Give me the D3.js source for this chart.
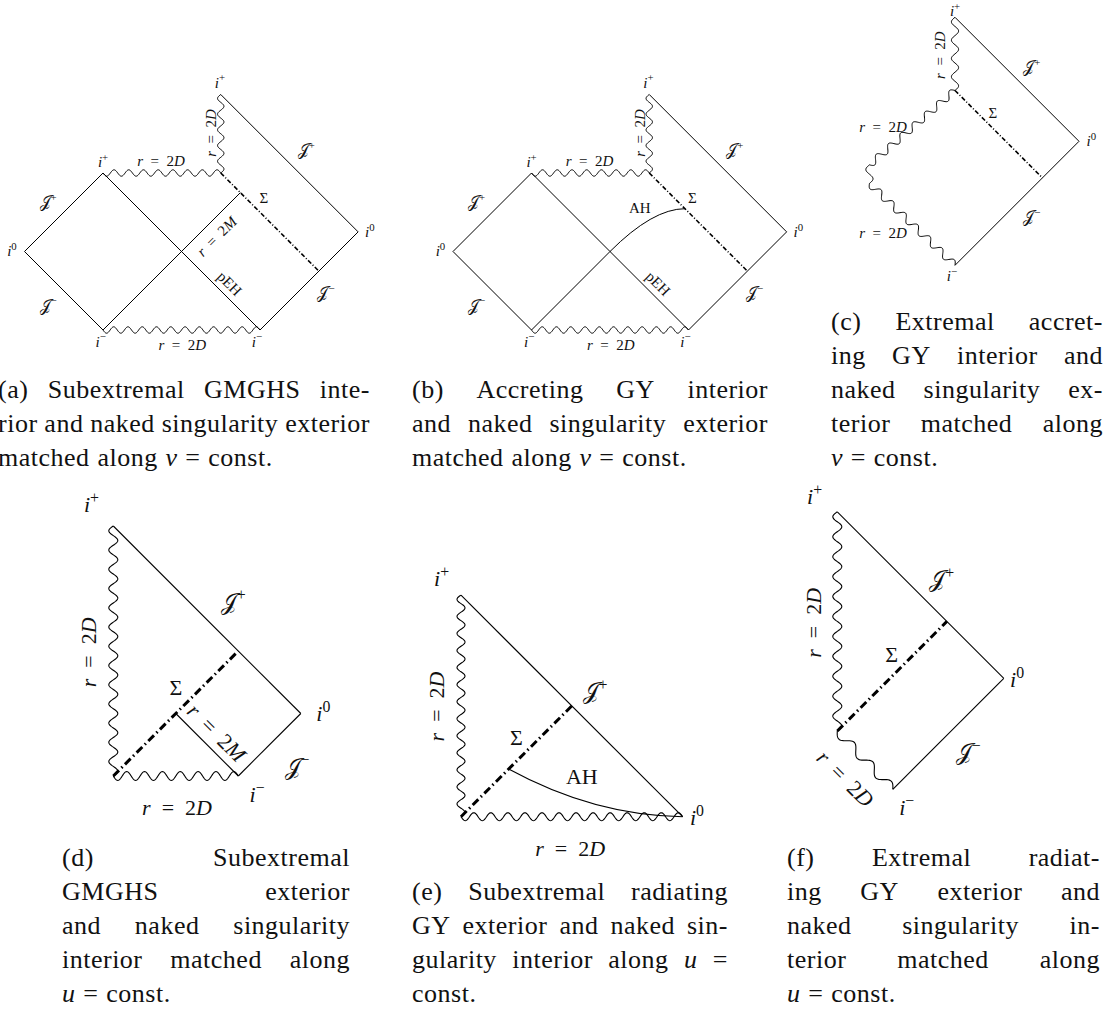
<!DOCTYPE html>
<html>
<head>
<meta charset="utf-8">
<script src="https://cdn.jsdelivr.net/npm/d3@7"></script>
<style>
  body { margin: 0; background: #fff; }
  svg { display: block; }
</style>
</head>
<body>
<script>
// Penrose diagrams: every vertex is given in diagram units (x to the right, t upward),
// so null rays run at 45 degrees. Each panel maps those units to pixels with its own scales.

// (a) and (b): GMGHS / GY interior glued to a naked-singularity exterior along v = const.
const abLines = [
  [[-2, 0], [-1, 1]], [[-2, 0], [-1, -1]],        // left J+ and J-
  [[-1, 1], [1, -1]],                              // pEH
  [[1, -1], [2.25, 0.25]], [[2.25, 0.25], [0.5, 2]] // right J- and J+
];
const aHorizon = [[[-1, -1], [0.75, 0.75]]];       // r = 2M up to Sigma
const bHorizon = [[[-1, -1], [0, 0]]];
const bApparent = [[0, 0], [0.545, 0.545], [0.955, 0.545]]; // AH: start, control, end
const abSnakes = [[[-1, 1], [0.5, 1]], [[0.5, 1], [0.5, 2]], [[-1, -1], [1, -1]]];
const abSigma = [[0.5, 1], [1.75, -0.25]];
const abLabels = [
  {s: "i^+", p: [-1.0, 1.14]}, {s: "r = 2D", p: [-0.26, 1.15]},
  {s: "J^+", p: [-1.70, 0.63]}, {s: "i^0", p: [-2.16, 0]},
  {s: "J^-", p: [-1.70, -0.69]}, {s: "i^-", p: [-1.03, -1.15]},
  {s: "r = 2D", p: [0.01, -1.19]}, {s: "i^-", p: [0.96, -1.15]},
  {s: "Σ", p: [1.05, 0.68]}, {s: "pEH", p: [0.61, -0.41], rot: 45, rm: true},
  {s: "J^+", p: [1.59, 1.29]}, {s: "J^-", p: [1.84, -0.53]},
  {s: "i^0", p: [2.40, 0.25]}, {s: "i^+", p: [0.49, 2.15]},
  {s: "r = 2D", p: [0.38, 1.51], rot: -90}
];
const aLabels = [{s: "r = 2M", p: [0.45, 0.19], rot: -45}];
const bLabels = [{s: "AH", p: [0.38, 0.55], rm: true}];

// (c) extremal accreting GY interior
const cLines = [[[0, 2], [2, 0]], [[2, 0], [0, -2]]];
const cSnakes = [[[0, 2], [0, 0.82]], [[0, 0.82], [-1.38, -0.38]],
                 [[-1.38, -0.38], [-1.38, -0.68]], [[-1.38, -0.68], [0, -2]]];
const cSigma = [[0, 0.82], [1.41, -0.59]];
const cLabels = [
  {s: "i^+", p: [0, 2.1]}, {s: "r = 2D", p: [-0.24, 1.39], rot: -90},
  {s: "J^+", p: [1.24, 1.2]}, {s: "Σ", p: [0.61, 0.46]},
  {s: "i^0", p: [2.2, 0]}, {s: "r = 2D", p: [-1.16, 0.23]},
  {s: "r = 2D", p: [-1.16, -1.48]}, {s: "J^-", p: [1.24, -1.22]},
  {s: "i^-", p: [-0.05, -2.18]}
];

// (d) subextremal GMGHS exterior, naked singularity interior, u = const.
const dLines = [[[0, 4], [3, 1]], [[3, 1], [2, 0]], [[2, 0], [1, 1]]];
const dSnakes = [[[0, 4], [0, 0]], [[0, 0], [2, 0]]];
const dSigma = [[0, 0], [2, 2]];
const dLabels = [
  {s: "i^+", p: [-0.35, 4.34]}, {s: "r = 2D", p: [-0.40, 1.98], rot: -90},
  {s: "J^+", p: [1.92, 2.78]}, {s: "Σ", p: [1.0, 1.41]},
  {s: "r = 2M", p: [1.65, 0.69], rot: 45}, {s: "i^0", p: [3.36, 1.0]},
  {s: "J^-", p: [2.94, 0.14]}, {s: "r = 2D", p: [1.02, -0.51]},
  {s: "i^-", p: [2.3, -0.3]}
];

// (e) subextremal radiating GY exterior
const eLines = [[[0, 4], [4, 0]]];
const eSnakes = [[[0, 4], [0, 0]], [[0, 0], [4, 0]]];
const eSigma = [[0, 0], [2, 2]];
const eApparent = [[0.86, 0.86], [2.4, 0.02], [4, 0]];
const eLabels = [
  {s: "i^+", p: [-0.35, 4.3]}, {s: "r = 2D", p: [-0.44, 1.99], rot: -90},
  {s: "J^+", p: [2.42, 2.26]}, {s: "Σ", p: [1.0, 1.42]},
  {s: "AH", p: [2.18, 0.72], rm: true}, {s: "i^0", p: [4.26, -0.02]},
  {s: "r = 2D", p: [1.97, -0.58]}
];

// (f) extremal radiating GY exterior
const fLines = [[[0, 5], [3, 2]], [[3, 2], [1, 0]]];
const fSnakes = [[[0, 5], [0, 1.05]], [[0, 1.05], [1, 0]]];
const fSigma = [[0, 1.05], [1.975, 3.025]];
const fLabels = [
  {s: "i^+", p: [-0.41, 5.27]}, {s: "r = 2D", p: [-0.43, 3.0], rot: -90},
  {s: "J^+", p: [1.88, 3.77]}, {s: "Σ", p: [0.98, 2.42]},
  {s: "i^0", p: [3.24, 1.97]}, {s: "J^-", p: [2.36, 0.65]},
  {s: "r = 2D", p: [0.14, 0.19], rot: 45}, {s: "i^-", p: [1.25, -0.34]}
];

// captions, one entry per printed line; $..$ marks math italic
const captionA = ["(a) Subextremal GMGHS inte-", "rior and naked singularity exterior", "matched along $v$ = const."];
const captionB = ["(b) Accreting GY interior", "and naked singularity exterior", "matched along $v$ = const."];
const captionC = ["(c) Extremal accret-", "ing GY interior and", "naked singularity ex-", "terior matched along", "$v$ = const."];
const captionD = ["(d) Subextremal", "GMGHS exterior", "and naked singularity", "interior matched along", "$u$ = const."];
const captionE = ["(e) Subextremal radiating", "GY exterior and naked sin-", "gularity interior along $u$ =", "const."];
const captionF = ["(f) Extremal radiat-", "ing GY exterior and", "naked singularity in-", "terior matched along", "$u$ = const."];

const FONT = "'Liberation Serif', 'Times New Roman', serif";
const SCRIPT_FONT = "'DejaVu Serif', 'DejaVu Sans', 'Noto Sans', serif";
const CAP_FS = 26;
const LINE = 34;

const svg = d3.select("body").append("svg")
  .attr("width", 1112)
  .attr("height", 1012)
  .attr("font-family", FONT);

function snakePath(p0, p1, period, amp) {
  const dx = p1[0] - p0[0], dy = p1[1] - p0[1], L = Math.hypot(dx, dy);
  const n = Math.max(1, Math.round(L / period)), per = L / n;
  const ux = dx / L, uy = dy / L;
  const pts = d3.range(n * 24 + 1).map(i => {
    const s = i / (n * 24) * L;
    const o = amp * Math.sin(2 * Math.PI * s / per);
    return [p0[0] + ux * s - uy * o, p0[1] + uy * s + ux * o];
  });
  return d3.line()(pts);
}

// tiny math typesetter: letters italic, J -> script J, ^ gives a superscript
function mathLabel(g, str, fs, roman) {
  const segs = [];
  for (let i = 0; i < str.length; i++) {
    let c = str[i], sup = false;
    if (c === "^") { sup = true; c = str[++i]; }
    let it = /[A-Za-z]/.test(c) && !roman, script = false;
    if (c === "J" && !roman) { c = "\u{1D4A5}"; it = false; script = true; }
    if (c === "-") c = "\u2212";
    if (c === " ") c = "\u2002";
    const last = segs[segs.length - 1];
    if (last && last.it === it && last.sup === sup && last.script === script) last.t += c;
    else segs.push({t: c, it, sup, script});
  }
  const t = g.append("text").attr("text-anchor", "middle").attr("font-size", fs);
  let up = false;
  segs.forEach(sg => {
    const ts = t.append("tspan").text(sg.t)
      .attr("font-style", sg.it ? "italic" : "normal");
    if (sg.script) ts.attr("font-family", SCRIPT_FONT).attr("font-size", fs * 1.05);
    if (sg.sup && !up) { ts.attr("dy", -0.42 * fs).attr("font-size", fs * 0.72); up = true; }
    else if (sg.sup) ts.attr("font-size", fs * 0.72);
    else if (up) { ts.attr("dy", 0.42 * fs); up = false; }
  });
  return t;
}

function drawPanel(cfg, geo) {
  const x = d3.scaleLinear().domain([0, 1]).range([cfg.ox, cfg.ox + cfg.k]);
  const y = d3.scaleLinear().domain([0, 1]).range([cfg.oy, cfg.oy - cfg.k]);
  const P = p => [x(p[0]), y(p[1])];
  const g = svg.append("g").attr("fill", "none").attr("stroke", "#000");

  g.selectAll(null).data(geo.lines).join("path")
    .attr("d", d => d3.line()(d.map(P)))
    .attr("stroke-width", cfg.lw);

  geo.snakes.forEach((s, i) => {
    g.append("path")
      .attr("d", snakePath(P(s[0]), P(s[1]), (cfg.periods && cfg.periods[i]) || cfg.period, cfg.amp))
      .attr("stroke-width", cfg.lw);
  });

  if (geo.curve) {
    const c = geo.curve.map(P);
    const path = d3.path();
    path.moveTo(c[0][0], c[0][1]);
    path.quadraticCurveTo(c[1][0], c[1][1], c[2][0], c[2][1]);
    g.append("path").attr("d", path.toString()).attr("stroke-width", cfg.lw);
  }

  g.append("path")
    .attr("d", d3.line()(geo.sigma.map(P)))
    .attr("stroke-width", cfg.sw)
    .attr("stroke-dasharray", cfg.dash);

  const lg = svg.append("g").attr("fill", "#111");
  geo.labels.forEach(l => {
    const px = P(l.p);
    const t = mathLabel(lg, l.s, cfg.fs, l.rm);
    t.attr("transform", `translate(${px[0]},${px[1]}) rotate(${l.rot || 0}) translate(0,${0.33 * cfg.fs})`);
  });
}

const smallPanel = {k: 78.5, lw: 1, period: 14.5, amp: 3.2, sw: 1.6, dash: "4.5,2,1,2", fs: 15};
drawPanel({...smallPanel, ox: 181.5, oy: 251.5},
  {lines: abLines.concat(aHorizon), snakes: abSnakes, sigma: abSigma, labels: abLabels.concat(aLabels)});
drawPanel({...smallPanel, ox: 610, oy: 251.5},
  {lines: abLines.concat(bHorizon), snakes: abSnakes, sigma: abSigma, curve: bApparent, labels: abLabels.concat(bLabels)});
drawPanel({...smallPanel, ox: 955, oy: 141.3, k: 62, period: 17, amp: 3.6},
  {lines: cLines, snakes: cSnakes, sigma: cSigma, labels: cLabels});

const bigPanel = {lw: 1.1, sw: 3, dash: "8,3.5,1.5,3.5", fs: 22};
drawPanel({...bigPanel, ox: 113.3, oy: 776, k: 62.5, period: 19, amp: 4.5},
  {lines: dLines, snakes: dSnakes, sigma: dSigma, labels: dLabels});
drawPanel({...bigPanel, ox: 461, oy: 816.7, k: 55.4, period: 17, amp: 4},
  {lines: eLines, snakes: eSnakes, sigma: eSigma, curve: eApparent, labels: eLabels});
drawPanel({...bigPanel, ox: 837.3, oy: 789.3, k: 55.5, period: 20, periods: [20, 27], amp: 4.5},
  {lines: fLines, snakes: fSnakes, sigma: fSigma, labels: fLabels});

// justified captions, last line set ragged
function drawCaption(lines, x0, x1, y0) {
  lines.forEach((line, li) => {
    const words = line.split(" ");
    const yb = y0 + li * LINE;
    const nodes = words.map(w => {
      const it = w.startsWith("$");
      return svg.append("text")
        .attr("y", yb)
        .attr("font-size", CAP_FS)
        .attr("letter-spacing", 0.5)
        .attr("fill", "#111")
        .attr("font-style", it ? "italic" : null)
        .text(it ? w.slice(1, -1) : w);
    });
    const widths = nodes.map(n => n.node().getComputedTextLength());
    const total = d3.sum(widths);
    const last = li === lines.length - 1;
    const gap = last || words.length < 2 ? CAP_FS * 0.3 : (x1 - x0 - total) / (words.length - 1);
    let cx = x0;
    nodes.forEach((n, i) => { n.attr("x", cx); cx += widths[i] + gap; });
  });
}

drawCaption(captionA, -2, 370, 398);
drawCaption(captionB, 412, 768, 398);
drawCaption(captionC, 831, 1103, 330);
drawCaption(captionD, 62, 350, 866);
drawCaption(captionE, 412, 728, 900);
drawCaption(captionF, 787, 1100, 866);
</script>
</body>
</html>
